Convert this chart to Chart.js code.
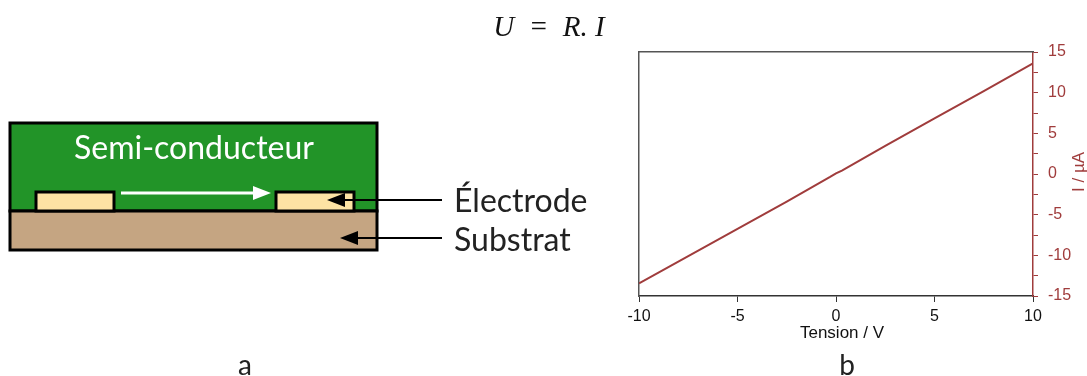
<!DOCTYPE html>
<html>
<head>
<meta charset="utf-8">
<style>
  html, body { margin: 0; padding: 0; background: #fff; overflow: hidden; }
  #wrap { position: relative; width: 1087px; height: 376px; }
</style>
<script src="https://cdn.jsdelivr.net/npm/chart.js@4"></script>
</head>
<body>
<div id="wrap"><canvas id="chart" width="1087" height="376"></canvas></div>
<script>
// Courbe I(V)
const tensionValues = [-10, -7.5, -5, -2.5, -0.3, 0, 0.3, 2.5, 5, 7.5, 10];
const courantValues = [-13.44, -10.1, -6.76, -3.4, -0.36, 0.08, 0.42, 3.45, 6.85, 10.2, 13.6];
const xTickLabels = [-10, -5, 0, 5, 10];
const yTickLabels = [-15, -10, -5, 0, 5, 10, 15];

const brown = '#a03c3c';
const gray = '#555555';
const sans = 'Liberation Sans';
const humanist = 'Lato';

// Schema de gauche, legendes et titres d'axes
const annotations = {
  id: 'annotations',
  afterDraw(chart) {
    const c = chart.ctx;
    const rect = (x, y, w, h, fill) => {
      c.fillStyle = fill;
      c.fillRect(x, y, w, h);
      c.strokeStyle = '#000';
      c.lineWidth = 3;
      c.strokeRect(x, y, w, h);
    };
    const arrow = (x1, x2, y, color, lw, len, half) => {
      c.strokeStyle = color;
      c.fillStyle = color;
      c.lineWidth = lw;
      const dir = x2 > x1 ? 1 : -1;
      c.beginPath();
      c.moveTo(x1, y);
      c.lineTo(x2 - dir * len, y);
      c.stroke();
      c.beginPath();
      c.moveTo(x2, y);
      c.lineTo(x2 - dir * len, y - half);
      c.lineTo(x2 - dir * len, y + half);
      c.closePath();
      c.fill();
    };
    const text = (s, x, y, font, color, align, rot) => {
      c.save();
      c.translate(x, y);
      if (rot) c.rotate(rot);
      c.font = font;
      c.fillStyle = color;
      c.textAlign = align || 'left';
      c.textBaseline = 'middle';
      c.fillText(s, 0, 0);
      c.restore();
    };

    c.save();
    rect(10, 123, 367, 88, '#229428');
    rect(10, 211, 367, 39, '#c5a582');
    rect(36, 192, 78, 19, '#fde3a4');
    rect(276, 192, 78, 19, '#fde3a4');
    arrow(121, 271, 193, '#fff', 3, 18, 7);
    arrow(442, 327, 200, '#000', 2, 18, 7);
    arrow(442, 340, 238, '#000', 2, 18, 7);
    c.restore();

    text('Semi-conducteur', 194, 149, '32px "' + humanist + '"', '#fff', 'center');
    text('Électrode', 454, 202, '32px "' + humanist + '"', '#222', 'left');
    text('Substrat', 454, 241, '32px "' + humanist + '"', '#222', 'left');
    text('a', 245, 366, '28px "' + humanist + '"', '#222', 'center');
    text('b', 847, 366, '28px "' + humanist + '"', '#222', 'center');
    text('U  =  R. I', 549, 28, 'italic 29px "Liberation Serif"', '#111', 'center');
    text('Tension / V', 842, 333, '17px "' + sans + '"', '#111', 'center');
    text('I / µA', 1079, 172, '17px "' + sans + '"', brown, 'center', -Math.PI / 2);
  }
};

new Chart(document.getElementById('chart'), {
  type: 'line',
  data: {
    labels: tensionValues,
    datasets: [{
      data: tensionValues.map((v, i) => ({ x: v, y: courantValues[i] })),
      borderColor: brown,
      borderWidth: 2,
      pointRadius: 0,
      tension: 0,
      fill: false
    }]
  },
  options: {
    responsive: false,
    animation: false,
    layout: { padding: { left: 639, top: 52, right: 0, bottom: 0 } },
    plugins: { legend: { display: false }, tooltip: { enabled: false } },
    scales: {
      x: {
        type: 'linear',
        min: -10,
        max: 10,
        afterFit(scale) { scale.height = 80; },
        afterBuildTicks(scale) { scale.ticks = xTickLabels.map(v => ({ value: v })); },
        grid: { drawOnChartArea: false, color: gray, tickColor: '#333', tickLength: 6 },
        border: { color: '#333', width: 1.5 },
        ticks: { color: '#111', font: { family: sans, size: 16 }, padding: 5, maxRotation: 0, autoSkip: false }
      },
      y: {
        position: 'right',
        min: -15,
        max: 15,
        afterFit(scale) { scale.width = 54; },
        afterBuildTicks(scale) {
          const t = [];
          yTickLabels.forEach((v, i) => {
            t.push({ value: v });
            if (i < yTickLabels.length - 1) t.push({ value: v + 2.5 });
          });
          scale.ticks = t;
        },
        grid: { drawOnChartArea: false, tickColor: brown, tickLength: 5 },
        border: { color: brown, width: 1.5 },
        ticks: {
          color: brown,
          font: { family: sans, size: 16 },
          padding: 10,
          autoSkip: false,
          callback: v => (yTickLabels.includes(v) ? String(v) : '')
        }
      },
      top: {
        type: 'linear',
        position: 'top',
        display: true,
        min: -10,
        max: 10,
        afterFit(scale) { scale.height = 0; },
        grid: { display: false },
        border: { color: gray, width: 1.5 },
        ticks: { display: false }
      },
      left: {
        type: 'linear',
        position: 'left',
        display: true,
        min: -15,
        max: 15,
        afterFit(scale) { scale.width = 0; },
        grid: { display: false },
        border: { color: gray, width: 1.5 },
        ticks: { display: false }
      }
    }
  },
  plugins: [annotations]
});
</script>
</body>
</html>
